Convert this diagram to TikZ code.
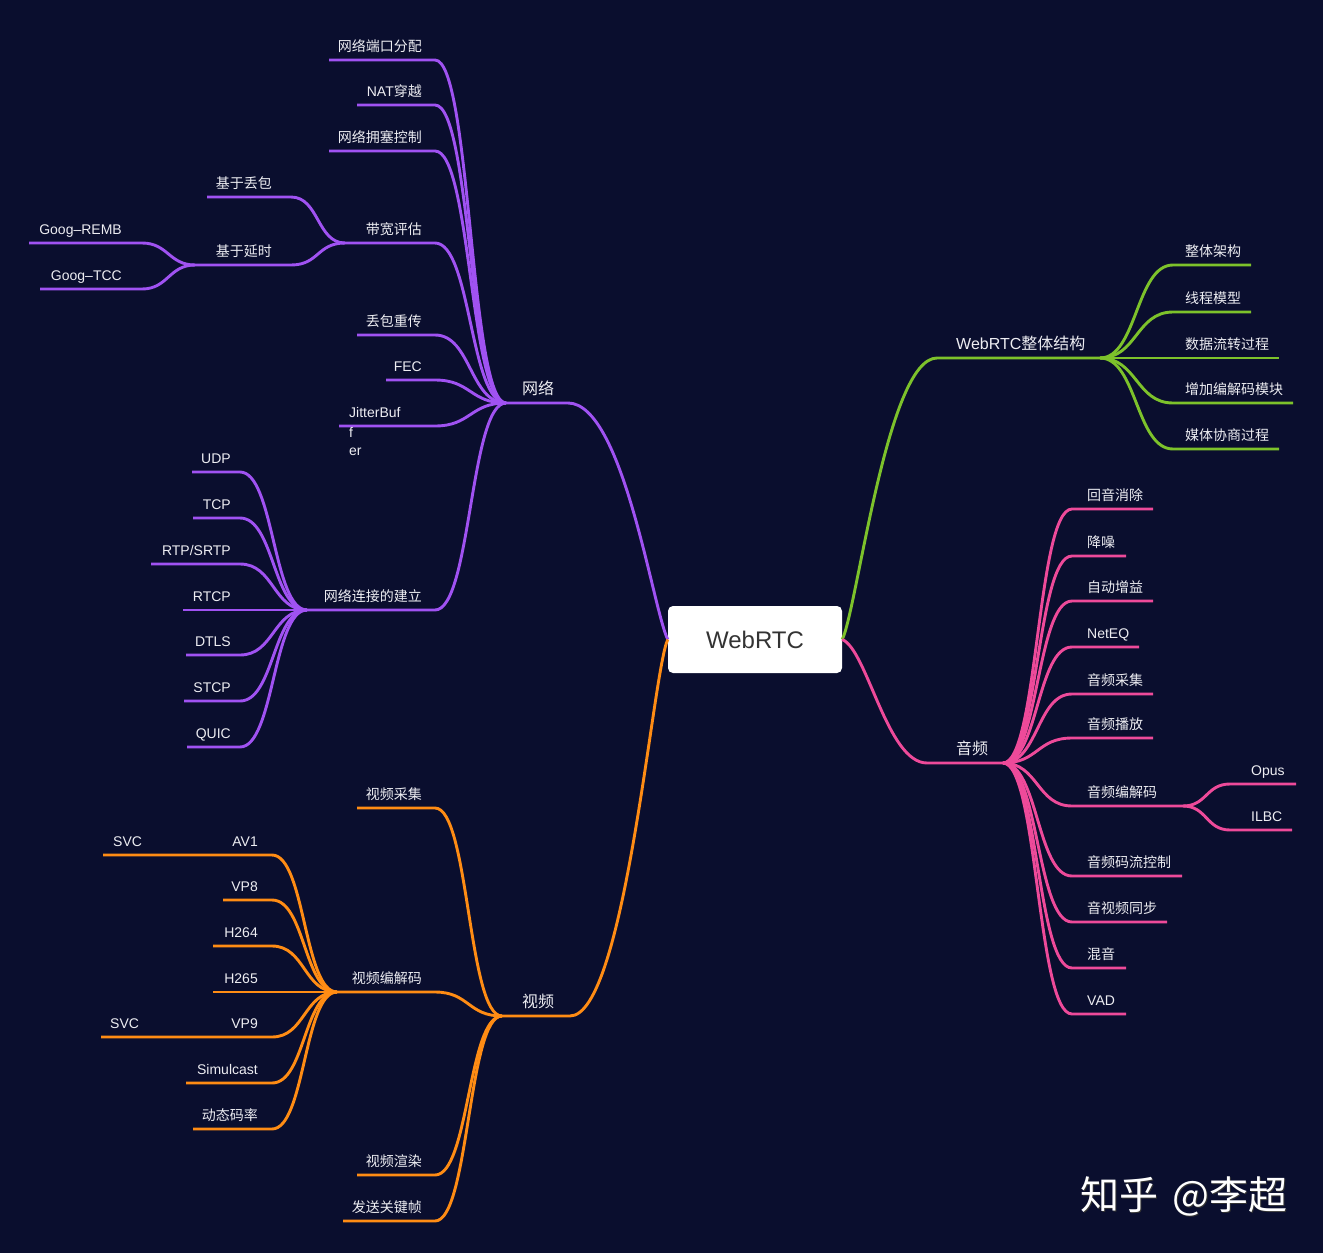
\documentclass[tikz,border=0pt]{standalone}
\usepackage{fontspec}
\setmainfont{Noto Sans CJK SC}
\newfontfamily\lat{Liberation Sans}
\definecolor{bg}{HTML}{0A0E2E}
\definecolor{cpur}{HTML}{A052F2}
\definecolor{cgrn}{HTML}{7DC22B}
\definecolor{cpnk}{HTML}{EE4A9A}
\definecolor{corg}{HTML}{FF8C14}
\definecolor{txt}{HTML}{EDEDF2}
\definecolor{rtxt}{HTML}{333333}
\def\kk{35}
% left leaf: name, xL, xR, y, text right x, hub, text
\newcommand\LL[7]{%
  \coordinate (#1a) at (#2,#4);
  \coordinate (#1b) at (#3,#4);
  \node[lbl,anchor=base east] (#1) at (#5,#4-9) {#7};
  \draw[br] (#1a) -- (#1b) .. controls +(\kk,0) and +(-\kk,0) .. (#6);
}
% right leaf: name, hub, xL, xR, y, text left x, text
\newcommand\RL[7]{%
  \coordinate (#1a) at (#3,#5);
  \coordinate (#1b) at (#4,#5);
  \node[lbl,anchor=base west] (#1) at (#6,#5-9) {#7};
  \draw[br] (#2) .. controls +(\kk,0) and +(-\kk,0) .. (#1a) -- (#1b);
}
\begin{document}
\begin{tikzpicture}[x=1pt,y=-1pt,
  lbl/.style={text=txt,font=\fontsize{14}{16}\selectfont,inner sep=0pt},
  lbl1/.style={text=txt,font=\fontsize{16}{18}\selectfont,inner sep=0pt},
  br/.style={line width=2.9pt}]
\fill[bg] (0,0) rectangle (1323,1253);
\useasboundingbox (0,0) rectangle (1323,1253);

% root
\node[fill=white, rounded corners=5pt, minimum width=174pt, minimum height=67pt,
      inner sep=0pt, text=rtxt, font=\lat\fontsize{24}{28}\selectfont] (root) at (755,639.5) {WebRTC};

% ===== network (purple)
\begin{scope}[cpur]
\coordinate (netH) at (506,403);
\coordinate (netE) at (568,403);
\node[lbl1,anchor=base west] (net) at (522,394) {网络};
\draw[br] (netH) -- (netE) .. controls +(55,0) and +(-15,-30) .. (root.west);
\def\kk{36}
\LL{n1}{329}{435}{60}{422}{netH}{网络端口分配}
\LL{n2}{357}{435}{105}{422}{netH}{{\lat NAT}穿越}
\LL{n3}{329}{435}{151}{422}{netH}{网络拥塞控制}
\LL{n4}{345}{435}{243}{422}{netH}{带宽评估}
\LL{n5}{357}{435}{335}{422}{netH}{丢包重传}
\LL{n6}{386}{435}{380}{422}{netH}{{\lat FEC}}
\coordinate (jba) at (339,426);
\coordinate (jbb) at (435,426);
\draw[br] (jba) -- (jbb) .. controls +(\kk,0) and +(-\kk,0) .. (netH);
\node[lbl,anchor=base west] (jb1) at (349,417) {{\lat JitterBuf}};
\node[lbl,anchor=base west] (jb2) at (349,437) {{\lat f}};
\node[lbl,anchor=base west] (jb3) at (349,455) {{\lat er}};
\LL{n7}{307}{435}{610}{422}{netH}{网络连接的建立}
% bandwidth sub
\def\kk{28}
\LL{b1}{207}{291}{197}{272}{n4a}{基于丢包}
\LL{b2}{195}{291}{265}{272}{n4a}{基于延时}
\def\kk{26}
\LL{g1}{29}{142}{243}{122}{b2a}{{\lat Goog–REMB}}
\LL{g2}{40}{142}{289}{122}{b2a}{{\lat Goog–TCC}}
% connection sub
\def\kk{34}
\LL{c1}{192}{240}{472}{231}{n7a}{{\lat UDP}}
\LL{c2}{193}{240}{518}{231}{n7a}{{\lat TCP}}
\LL{c3}{151}{240}{564}{231}{n7a}{{\lat RTP/SRTP}}
\LL{c4}{183}{240}{610}{231}{n7a}{{\lat RTCP}}
\LL{c5}{186}{240}{655}{231}{n7a}{{\lat DTLS}}
\LL{c6}{184}{240}{701}{231}{n7a}{{\lat STCP}}
\LL{c7}{187}{240}{747}{231}{n7a}{{\lat QUIC}}
\end{scope}

% ===== video (orange)
\begin{scope}[corg]
\coordinate (vidH) at (502,1016);
\coordinate (vidE) at (570,1016);
\node[lbl1,anchor=base west] (vid) at (522,1007) {视频};
\draw[br] (vidH) -- (vidE) .. controls +(55,0) and +(-15,30) .. (root.west);
\def\kk{34}
\LL{v1}{357}{435}{808}{422}{vidH}{视频采集}
\LL{v2}{337}{435}{992}{422}{vidH}{视频编解码}
\LL{v3}{357}{435}{1175}{422}{vidH}{视频渲染}
\LL{v4}{343}{435}{1221}{422}{vidH}{发送关键帧}
\def\kk{33}
\LL{d1}{103}{272}{855}{258}{v2a}{{\lat AV1}}
\LL{d2}{223}{272}{900}{258}{v2a}{{\lat VP8}}
\LL{d3}{213}{272}{946}{258}{v2a}{{\lat H264}}
\LL{d4}{213}{272}{992}{258}{v2a}{{\lat H265}}
\LL{d5}{101}{272}{1037}{258}{v2a}{{\lat VP9}}
\LL{d6}{186}{272}{1083}{258}{v2a}{{\lat Simulcast}}
\LL{d7}{193}{272}{1129}{258}{v2a}{动态码率}
\node[lbl,anchor=base west] (s1) at (113,846) {{\lat SVC}};
\node[lbl,anchor=base west] (s2) at (110,1028) {{\lat SVC}};
\end{scope}

% ===== structure (green)
\begin{scope}[cgrn]
\coordinate (stS) at (937,358);
\coordinate (stH) at (1100,358);
\node[lbl1,anchor=base west] (st) at (956,349) {{\lat WebRTC}整体结构};
\draw[br] (root.east) .. controls +(15,-30) and +(-50,0) .. (stS) -- (stH);
\def\kk{37}
\RL{e1}{stH}{1173}{1251}{265}{1185}{整体架构}
\RL{e2}{stH}{1173}{1251}{312}{1185}{线程模型}
\RL{e3}{stH}{1173}{1279}{358}{1185}{数据流转过程}
\RL{e4}{stH}{1173}{1293}{403}{1185}{增加编解码模块}
\RL{e5}{stH}{1173}{1279}{449}{1185}{媒体协商过程}
\end{scope}

% ===== audio (pink)
\begin{scope}[cpnk]
\coordinate (auS) at (927,763);
\coordinate (auH) at (1003,763);
\node[lbl1,anchor=base west] (au) at (956,754) {音频};
\draw[br] (root.east) .. controls +(25,10) and +(-40,0) .. (auS) -- (auH);
\def\kk{35}
\RL{a1}{auH}{1072}{1153}{509}{1087}{回音消除}
\RL{a2}{auH}{1072}{1126}{556}{1087}{降噪}
\RL{a3}{auH}{1072}{1153}{601}{1087}{自动增益}
\RL{a4}{auH}{1072}{1139}{647}{1087}{{\lat NetEQ}}
\RL{a5}{auH}{1072}{1153}{694}{1087}{音频采集}
\RL{a6}{auH}{1072}{1153}{738}{1087}{音频播放}
\RL{a7}{auH}{1072}{1183}{806}{1087}{音频编解码}
\RL{a8}{auH}{1072}{1182}{876}{1087}{音频码流控制}
\RL{a9}{auH}{1072}{1167}{922}{1087}{音视频同步}
\RL{a10}{auH}{1072}{1126}{968}{1087}{混音}
\RL{a11}{auH}{1072}{1126}{1014}{1087}{{\lat VAD}}
\def\kk{24}
\RL{o1}{a7b}{1230}{1296}{784}{1251}{{\lat Opus}}
\RL{o2}{a7b}{1230}{1292}{830}{1251}{{\lat ILBC}}
\end{scope}

% watermark
\node[anchor=west, inner sep=0pt, text=black!80, font=\fontsize{39}{42}\selectfont] (wms) at (1081.5,1197.5) {知乎\hspace{14pt}@李超};
\node[anchor=west, inner sep=0pt, text=white, font=\fontsize{39}{42}\selectfont] (wm) at (1080,1196) {知乎\hspace{14pt}@李超};
\end{tikzpicture}
\end{document}
